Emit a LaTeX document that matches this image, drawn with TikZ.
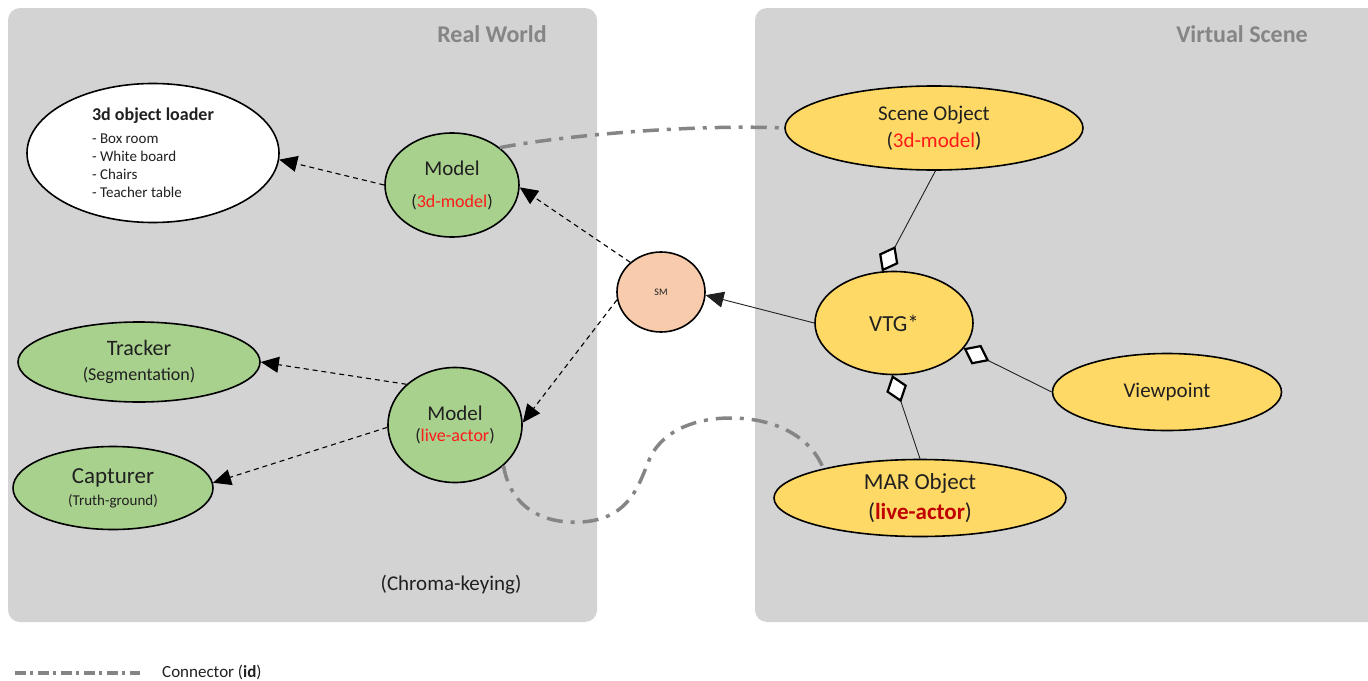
\documentclass[tikz,border=0pt]{standalone}
\usepackage{fontspec}
\setmainfont{Carlito}
\usetikzlibrary{shapes.geometric,arrows.meta}

\definecolor{panelgray}{HTML}{D3D3D3}
\definecolor{titlegray}{HTML}{858585}
\definecolor{linkgray}{HTML}{858585}
\definecolor{leafgreen}{HTML}{A9D18E}
\definecolor{gold}{HTML}{FFD966}
\definecolor{peach}{HTML}{F8CBAD}
\definecolor{idred}{HTML}{FF1A1A}
\definecolor{darkred}{HTML}{C00000}
\definecolor{ink}{HTML}{202020}

\newcommand\fsz[2]{\fontsize{#1}{#2}\selectfont}

\tikzset{
  panel/.style={fill=panelgray, rounded corners=12pt},
  paneltitle/.style={text=titlegray, font=\fsz{24}{28}\bfseries},
  oval/.style={ellipse, draw=black, line width=1.6pt, inner sep=0pt,
               align=center, text=ink},
  realnode/.style={oval, fill=leafgreen},
  virtnode/.style={oval, fill=gold},
  uses/.style={draw=black, line width=1.1pt, dash pattern=on 5pt off 4pt,
               -{Triangle[length=18pt, width=16pt]}},
  feeds/.style={draw=ink, line width=0.9pt,
               -{Triangle[length=18pt, width=16pt]}},
  part/.style={draw=ink, line width=0.9pt},
  partmark/.style={pos=1, sloped, allow upside down, anchor=east,
               diamond, draw=black, fill=white, line width=2.2pt,
               inner sep=0pt, minimum width=26pt, minimum height=20pt},
  idlink/.style={draw=linkgray, line width=3.5pt,
               dash pattern=on 16pt off 8pt on 4pt off 8pt},
  idlegend/.style={draw=linkgray, line width=3.2pt,
               dash pattern=on 10.5pt off 4.5pt on 3pt off 5pt},
}

\begin{document}
\begin{tikzpicture}[x=1pt, y=-1pt]
\useasboundingbox (0,0) rectangle (1368,680);

% two areas
\fill[panel] (8,8) rectangle (597,622);
\fill[panel] (755,8) rectangle (1390,622);
\node[paneltitle] (rwtitle) at (492,34) {Real World};
\node[paneltitle] (vstitle) at (1242,34) {Virtual Scene};

% real world side
\node[oval, fill=white, minimum width=252pt, minimum height=139pt, align=left,
      font=\fsz{15}{18}] (loader) at (153,153)
  {{\fsz{18}{18}\bfseries 3d object loader}\\[5pt]
   - Box room\\ - White board\\ - Chairs\\ - Teacher table};

\node[realnode, minimum width=134pt, minimum height=104pt,
      font=\fsz{21}{25}] (m3d) at (452,185)
  {Model\\[7pt]{\fsz{18}{18}(\textcolor{idred}{3d-model})}};

\node[realnode, minimum width=242pt, minimum height=80pt,
      font=\fsz{22}{25}] (tracker) at (139,362)
  {Tracker\\{\fsz{18}{18}(Segmentation)}};

\node[realnode, minimum width=200pt, minimum height=83pt,
      font=\fsz{23}{22}] (capturer) at (113,488)
  {Capturer\\{\fsz{15}{15}(Truth-ground)}};

\node[realnode, minimum width=134pt, minimum height=115pt,
      font=\fsz{21}{21}] (mlive) at (455,425)
  {Model\\{\fsz{18}{18}(\textcolor{idred}{live-actor})}};

\node[text=ink, font=\fsz{21}{25}] (chroma) at (451,585) {(Chroma-keying)};

% scene manager
\node[oval, fill=peach, minimum width=88pt, minimum height=80pt,
      font=\fsz{10}{12}] (sm) at (661,292) {SM};

% virtual scene side
\node[virtnode, minimum width=298pt, minimum height=84pt,
      font=\fsz{21}{27}] (so) at (934,128)
  {Scene Object\\(\textcolor{idred}{3d-model})};

\node[virtnode, minimum width=158pt, minimum height=103pt,
      font=\fsz{23}{25}] (vtg) at (894,323) {VTG*};

\node[virtnode, minimum width=229pt, minimum height=77pt,
      font=\fsz{21}{25}] (vp) at (1167,392) {Viewpoint};

\node[virtnode, minimum width=292pt, minimum height=77pt,
      font=\fsz{23}{30}] (mar) at (920,498)
  {MAR Object\\(\textcolor{darkred}{\bfseries live-actor})};

% dependencies inside the real world
\draw[uses] (m3d.180) -- (loader.357);
\draw[uses] (sm.136) -- (m3d.358);
\draw[uses] (sm.190) -- (mlive.2);
\draw[uses] (mlive.140) -- (tracker.0);
\draw[uses] (mlive.182) -- (capturer.3);

% scene graph
\draw[feeds] (vtg.180) -- (sm.356);
\draw[part] (so.272) -- (vtg.103) node[partmark] (dso) {};
\draw[part] (vp.180) -- (vtg.340) node[partmark] (dvp) {};
\draw[part] (mar.90) -- (vtg.268) node[partmark] (dmar) {};

% identity connectors
\draw[idlink] (m3d.38) .. controls (560,136) and (690,124) .. (so.180);
\draw[idlink] (mlive.320) .. controls (510,505) and (540,524) .. (580,522)
  .. controls (632,520) and (640,480) .. (650,458)
  .. controls (664,428) and (700,418) .. (730,418)
  .. controls (780,418) and (812,440) .. (mar.163);

% legend
\coordinate (lgA) at (15,673);
\coordinate (lgB) at (140,673);
\draw[idlegend] (lgA) -- (lgB);
\node[anchor=west, text=ink, font=\fsz{17}{20}, inner sep=0pt] (lgtext) at (162,672)
  {Connector (\textbf{id})};
\end{tikzpicture}
\end{document}
